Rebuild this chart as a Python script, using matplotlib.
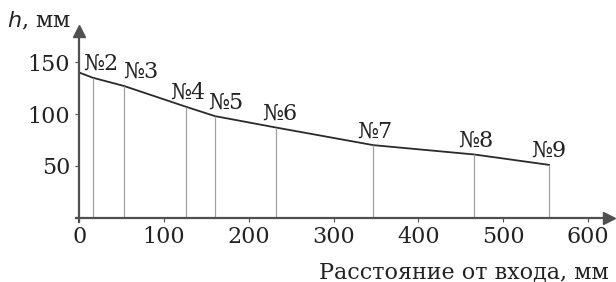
import matplotlib.pyplot as plt

# Data
station_labels = ['№2', '№3', '№4', '№5', '№6', '№7', '№8', '№9']
station_x = [16, 53, 126, 160, 232, 347, 466, 554]
station_h = [135, 127, 107, 98, 87, 70, 61, 51]
start_x = 0
start_h = 140
x_ticks = [0, 100, 200, 300, 400, 500, 600]
y_ticks = [50, 100, 150]

plt.rcParams['font.family'] = ['DejaVu Serif']
axis_col = '#505050'
text_col = '#222222'

fig = plt.figure(figsize=(6.16, 2.82), dpi=100)
ax = fig.add_axes([0.123, 0.213, 0.866, 0.677])
ax.set_xlim(-4, 625)
ax.set_ylim(-4, 180)

# curve through the stations
ax.plot([start_x] + station_x, [start_h] + station_h, color='#2a2a2a', lw=1.3)

# vertical lines from the axis up to each station
ax.vlines(station_x, 0, station_h, color='#a0a0a0', lw=0.9)

# station labels (offsets in points)
dx = [6, 12, 1, 8, 3, 1, 1, 0]
for lab, x, h, o in zip(station_labels, station_x, station_h, dx):
    ax.annotate(lab, (x, h), xytext=(o, 10), textcoords='offset points',
                ha='center', va='center', fontsize=16, color=text_col)

# axes like the textbook drawing
for s in ['top', 'right']:
    ax.spines[s].set_visible(False)
for s in ['left', 'bottom']:
    ax.spines[s].set_color(axis_col)
    ax.spines[s].set_linewidth(1.6)
    ax.spines[s].set_position(('data', 0))
ax.spines['left'].set_bounds(-4, 180)
ax.spines['bottom'].set_bounds(-4, 625)
ax.plot(1.0, 4 / 184, marker='>', ms=9, color=axis_col, transform=ax.transAxes, clip_on=False)
ax.plot(4 / 629, 1.0, marker='^', ms=9, color=axis_col, transform=ax.transAxes, clip_on=False)

ax.set_xticks(x_ticks)
ax.set_yticks(y_ticks)
ax.tick_params(axis='both', colors=axis_col, labelcolor=text_col, labelsize=16,
               length=3, width=0.8)
ax.tick_params(axis='x', direction='out', pad=3)

fig.text(0.012, 0.925, '$h$, мм', fontsize=16, color=text_col, va='center')
fig.text(0.988, 0.035, 'Расстояние от входа, мм', fontsize=16, color=text_col,
         ha='right', va='center')

fig.savefig('out.png', dpi=100)
